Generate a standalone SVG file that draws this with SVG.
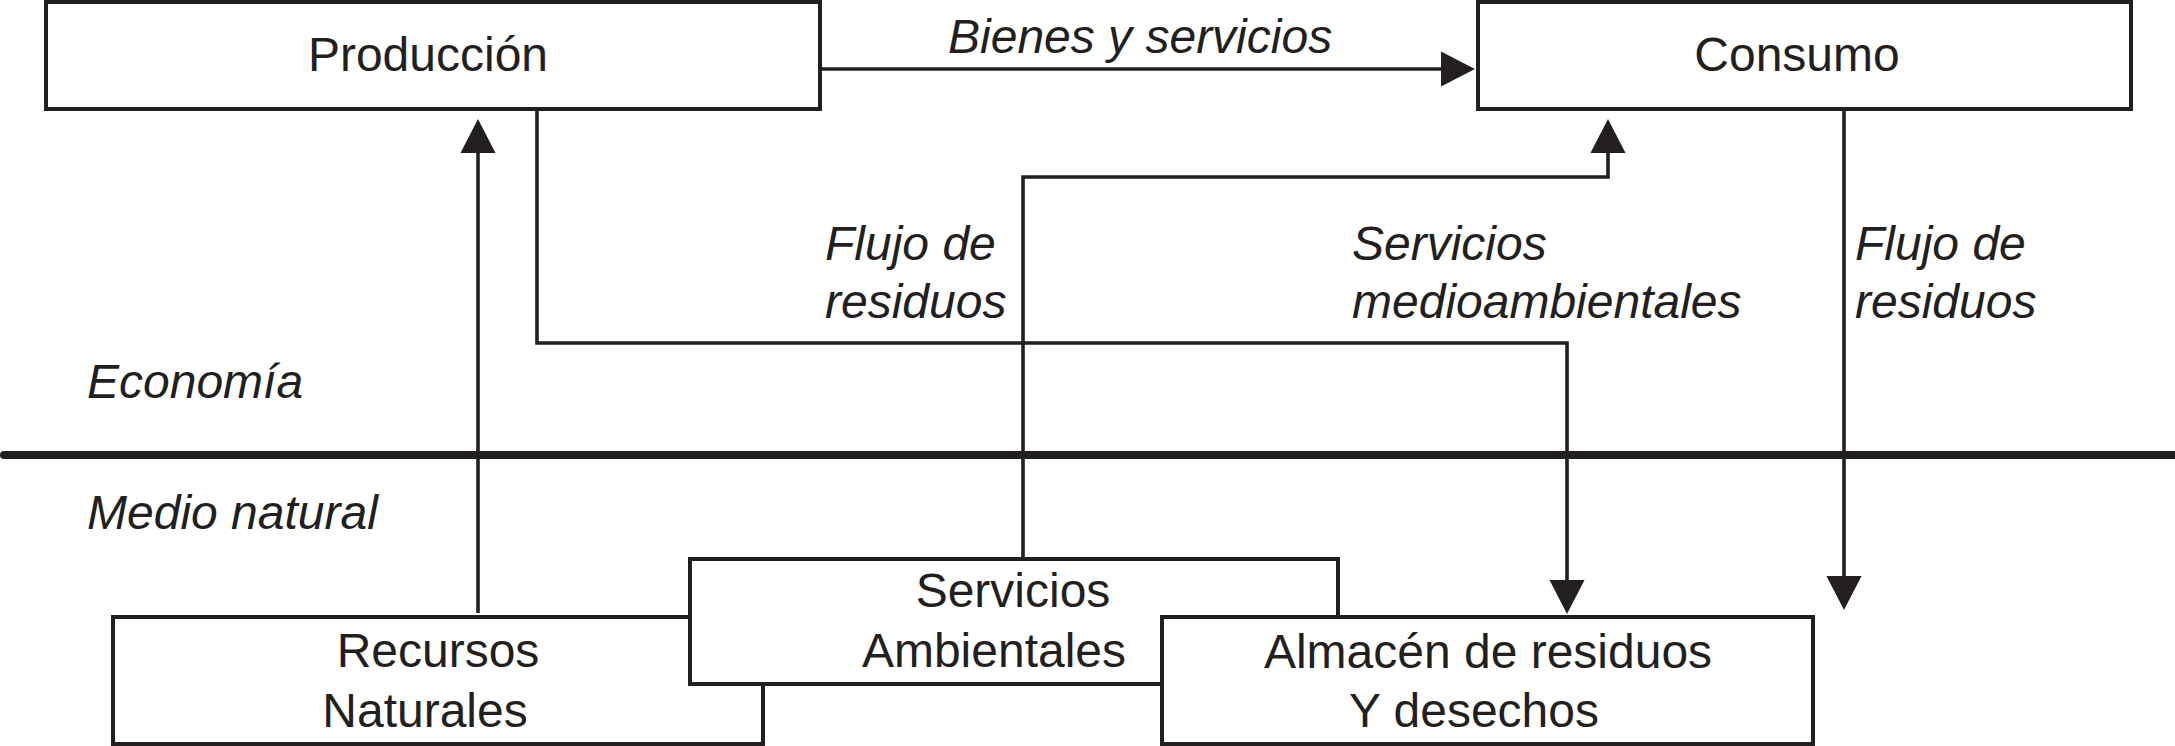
<svg xmlns="http://www.w3.org/2000/svg" width="2175" height="746" viewBox="0 0 2175 746">
<style>
.box{fill:#fff;stroke:#231f20;stroke-width:4}
.t{font-family:"Liberation Sans",Arial,sans-serif;font-size:48px;fill:#231f20}
.c{text-anchor:middle}
.i{font-style:italic}
.con{fill:none;stroke:#231f20;stroke-width:3.6}
</style>
<defs>
<marker id="ah" markerUnits="userSpaceOnUse" markerWidth="34" markerHeight="36" refX="0" refY="17" orient="auto" viewBox="0 0 33 34">
<path d="M0,0 L33,17 L0,34 Z" fill="#231f20"/>
</marker>
</defs>
<rect width="2175" height="746" fill="#fff"/>
<line x1="4" y1="455" x2="2175" y2="455" stroke="#231f20" stroke-width="8" stroke-linecap="round"/>
<g id="connectors">
<path class="con" d="M820,69 H1441" marker-end="url(#ah)"/>
<path class="con" d="M478,613 V153" marker-end="url(#ah)"/>
<path class="con" d="M537,109 V343 H1567 V580" marker-end="url(#ah)"/>
<path class="con" d="M1023,559 V177 H1608 V153" marker-end="url(#ah)"/>
<path class="con" d="M1844,109 V576" marker-end="url(#ah)"/>
</g>
<g id="labels">
<text class="t i" x="948" y="53">Bienes y servicios</text>
<text class="t i" x="825" y="260">Flujo de</text>
<text class="t i" x="825" y="318">residuos</text>
<text class="t i" x="1352" y="260">Servicios</text>
<text class="t i" x="1352" y="318">medioambientales</text>
<text class="t i" x="1855" y="260">Flujo de</text>
<text class="t i" x="1855" y="318">residuos</text>
<text class="t i" x="87" y="398">Economía</text>
<text class="t i" x="87" y="529">Medio natural</text>
</g>
<g id="produccion">
<rect class="box" x="46" y="2" width="774" height="107"/>
<text class="t c" x="428" y="71">Producción</text>
</g>
<g id="consumo">
<rect class="box" x="1478" y="2" width="653" height="107"/>
<text class="t c" x="1797" y="71">Consumo</text>
</g>
<g id="recursos">
<rect class="box" x="113" y="617" width="650" height="127"/>
<text class="t c" x="438" y="667">Recursos</text>
<text class="t c" x="425" y="727">Naturales</text>
</g>
<g id="servicios-ambientales">
<rect class="box" x="690" y="559" width="648" height="125"/>
<text class="t c" x="1013" y="607">Servicios</text>
<text class="t c" x="994" y="667">Ambientales</text>
</g>
<g id="almacen">
<rect class="box" x="1162" y="617" width="651" height="127"/>
<text class="t c" x="1488" y="668">Almacén de residuos</text>
<text class="t c" x="1474" y="727">Y desechos</text>
</g>
</svg>
